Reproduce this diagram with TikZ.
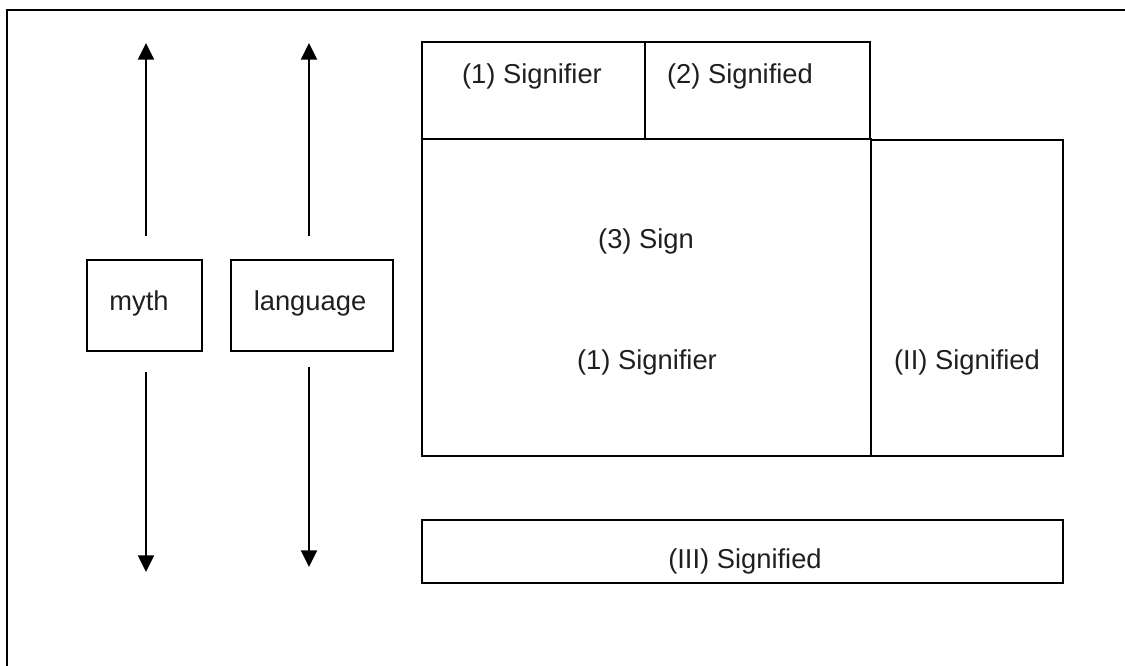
\documentclass[tikz,border=0pt]{standalone}
\usepackage{fontspec}
\setmainfont{Liberation Sans}
\usetikzlibrary{arrows.meta}
\begin{document}
\begin{tikzpicture}[x=0.75pt,y=-0.75pt,
  box/.style={draw=black,line width=1.1pt,rectangle,inner sep=0pt,outer sep=0pt,anchor=north west},
  lbl/.style={inner sep=0pt,anchor=base,font=\fontsize{20.5}{24}\selectfont,text=black!88},
  arr/.style={line width=1.6pt,-{Triangle[width=12pt,length=12.5pt]}},
  frame/.style={line width=1.9pt}]
\useasboundingbox (0,0) rectangle (1125,665);
% outer frame (cut by the page edges)
\coordinate (frBL) at (7,670);
\coordinate (frTL) at (7,10);
\coordinate (frTR) at (1130,10);
\draw[frame] (frBL) -- (frTL) -- (frTR);
% left boxes
\node[box,minimum width=115*0.75pt,minimum height=91*0.75pt] (myth) at (87,260) {};
\node[lbl] (mythT) at (139,310) {myth};
\node[box,minimum width=162*0.75pt,minimum height=91*0.75pt] (lang) at (231,260) {};
\node[lbl] (langT) at (310,310) {language};
% arrows
\coordinate (mUs) at (146,236); \coordinate (mUt) at (146,43);
\coordinate (mDs) at (146,372); \coordinate (mDt) at (146,572);
\coordinate (lUs) at (309,236); \coordinate (lUt) at (309,43);
\coordinate (lDs) at (309,367); \coordinate (lDt) at (309,567);
\draw[arr] (mUs) -- (mUt);
\draw[arr] (mDs) -- (mDt);
\draw[arr] (lUs) -- (lUt);
\draw[arr] (lDs) -- (lDt);
% top boxes
\node[box,minimum width=223*0.75pt,minimum height=97*0.75pt] (sig1) at (422,42) {};
\node[lbl] (sig1T) at (532,83) {(1) Signifier};
\node[box,minimum width=225*0.75pt,minimum height=97*0.75pt] (sig2) at (645,42) {};
\node[lbl] (sig2T) at (740,83) {(2) Signified};
% big sign box
\node[box,minimum width=449*0.75pt,minimum height=317*0.75pt] (sign) at (422,139) {};
\node[lbl] (signT) at (646,248) {(3) Sign};
\node[lbl] (sig1bT) at (647,369) {(1) Signifier};
% right box
\node[box,minimum width=192*0.75pt,minimum height=316*0.75pt] (sigII) at (871,140) {};
\node[lbl] (sigIIT) at (967,369) {(II) Signified};
% bottom box
\node[box,minimum width=641*0.75pt,minimum height=63*0.75pt] (sigIII) at (422,520) {};
\node[lbl] (sigIIIT) at (745,568) {(III) Signified};
\end{tikzpicture}
\end{document}
